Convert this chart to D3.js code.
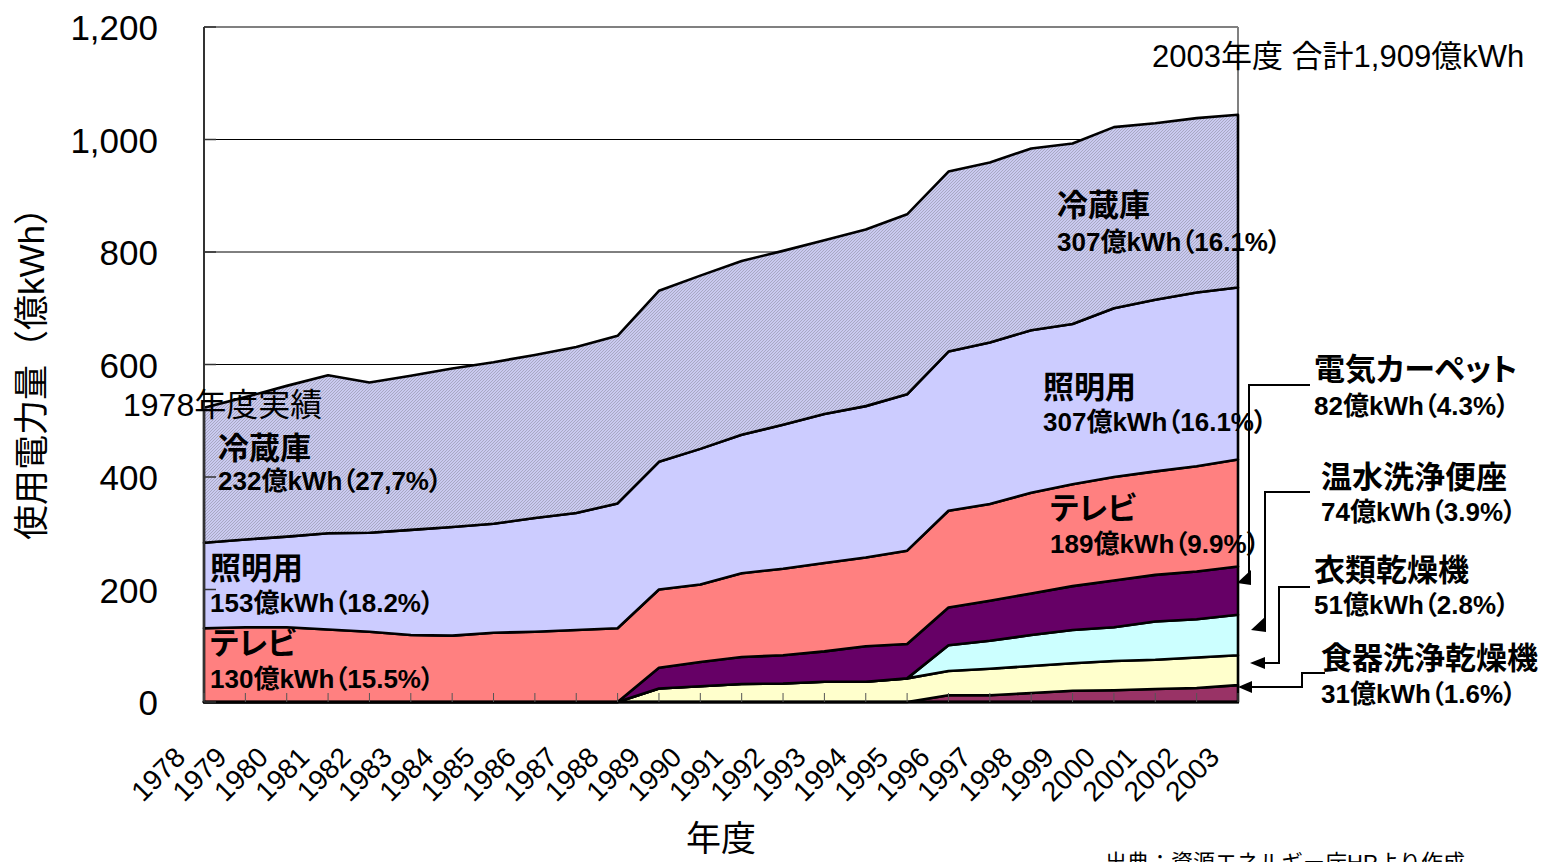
<!DOCTYPE html>
<html><head><meta charset="utf-8">
<script src="https://cdn.jsdelivr.net/npm/d3@7/dist/d3.min.js"></script>
<style>
html,body{margin:0;padding:0;background:#fff;overflow:hidden}
svg{display:block}
text{font-feature-settings:"palt"}
text.nopalt{font-feature-settings:normal}
</style></head><body>
<svg id="c" width="1548" height="862"></svg>
<script>
// ---- data (億kWh) ----
const years = [1978,1979,1980,1981,1982,1983,1984,1985,1986,1987,1988,1989,1990,1991,1992,1993,1994,1995,1996,1997,1998,1999,2000,2001,2002,2003];
const dishDryer = [0,0,0,0,0,0,0,0,0,0,0,0,0,0,0,0,0,0,12,12,16,20,21,23,25,30];          // 食器洗浄乾燥機
const clothesDryer = [0,0,0,0,0,0,0,0,0,0,0,24,28,32,33,36,36,42,43,47,48,49,52,52,54,53]; // 衣類乾燥機
const toiletSeat = [0,0,0,0,0,0,0,0,0,0,0,0,0,0,0,0,0,0,46,50,55,59,60,68,68,72];         // 温水洗浄便座
const carpet = [0,0,0,0,0,0,0,0,0,0,0,37,43,48,50,54,63,61,67,71,74,78,83,83,85,86];       // 電気カーペット
const tv = [131,133,133,129,125,119,118,123,125,128,131,139,138,149,154,157,158,166,172,172,179,181,184,184,187,190]; // テレビ
const lighting = [152,156,161,171,176,187,193,194,202,208,222,227,241,246,256,265,269,278,283,287,289,285,300,305,309,306]; // 照明用
const fridge = [240,253,268,281,267,274,282,287,290,295,298,304,308,309,309,309,314,320,320,320,323,321,322,314,310,307]; // 冷蔵庫
const yTicks = [0,200,400,600,800,1000,1200];
const seriesKeys = ["食器洗浄乾燥機","衣類乾燥機","温水洗浄便座","電気カーペット","テレビ","照明用","冷蔵庫"];
const seriesValues = [dishDryer, clothesDryer, toiletSeat, carpet, tv, lighting, fridge];
const seriesColors = ["#993366","#FFFFCC","#CCFFFF","#660066","#FF8080","#CCCCFF","url(#hatch)"];

const LAT = '"Liberation Sans", Arial, "Noto Sans CJK JP", sans-serif';
const JP = '"Noto Sans CJK JP", "Liberation Sans", sans-serif';

const svg = d3.select("#c");
const L = 204, R = 1238, T = 27, B = 702;
const x = d3.scaleLinear().domain([1978, 2003]).range([L, R]);
const y = d3.scaleLinear().domain([0, 1200]).range([B, T]);

// fine hatch pattern for 冷蔵庫
const defs = svg.append("defs");
const pat = defs.append("pattern").attr("id","hatch").attr("patternUnits","userSpaceOnUse").attr("width",3).attr("height",3);
pat.append("rect").attr("width",3).attr("height",3).attr("fill","#CACAF0");
pat.append("path").attr("d","M0,3 L3,0 M-1,1 L1,-1 M2,4 L4,2").attr("stroke","#A0A0B8").attr("stroke-width",0.8);

// gridlines
svg.append("g").selectAll("line").data(yTicks.filter(v => v > 0 && v < 1200)).join("line")
  .attr("x1", L).attr("x2", R).attr("y1", d => y(d)).attr("y2", d => y(d))
  .attr("stroke", "#000").attr("stroke-width", 1);
// frame top / right
svg.append("line").attr("x1", L).attr("x2", R).attr("y1", y(1200)).attr("y2", y(1200)).attr("stroke", "#808080").attr("stroke-width", 2);
svg.append("line").attr("x1", R).attr("x2", R).attr("y1", y(1200)).attr("y2", B).attr("stroke", "#808080").attr("stroke-width", 2);

// stacked areas
const rows = years.map((yr, i) => {
  const o = { year: yr };
  seriesKeys.forEach((k, j) => o[k] = seriesValues[j][i]);
  return o;
});
const stacked = d3.stack().keys(seriesKeys)(rows);
const area = d3.area().x(d => x(d.data.year)).y0(d => y(d[0])).y1(d => y(d[1]));
svg.append("g").selectAll("path").data(stacked).join("path")
  .attr("d", area)
  .attr("fill", (d, i) => seriesColors[i])
  .attr("stroke", "#000").attr("stroke-width", 2.6).attr("stroke-linejoin", "round");

// axes lines
svg.append("line").attr("x1", L).attr("x2", L).attr("y1", T).attr("y2", B).attr("stroke", "#333").attr("stroke-width", 2);
svg.append("line").attr("x1", L - 1).attr("x2", R + 1).attr("y1", B).attr("y2", B).attr("stroke", "#000").attr("stroke-width", 3);

// inner ticks
svg.append("g").selectAll("line").data(years).join("line")
  .attr("x1", d => x(d)).attr("x2", d => x(d)).attr("y1", B).attr("y2", B - 9)
  .attr("stroke", "#555").attr("stroke-width", 1);
svg.append("g").selectAll("line").data(yTicks).join("line")
  .attr("x1", L).attr("x2", L + 12).attr("y1", d => y(d)).attr("y2", d => y(d))
  .attr("stroke", "#333").attr("stroke-width", 1.5);

// y axis labels
const yAxis = d3.axisLeft(y).tickValues(yTicks).tickFormat(d3.format(",")).tickSize(0).tickPadding(0);
const ya = svg.append("g").attr("transform", `translate(${158},0)`).call(yAxis);
ya.select(".domain").remove();
ya.selectAll("text").attr("font-family", LAT).attr("font-size", 35).attr("fill", "#000").attr("dy", "0.36em");

// x axis labels (rotated)
svg.append("g").selectAll("text").data(years).join("text")
  .attr("transform", d => `translate(${x(d) - 17},${759}) rotate(-45)`)
  .attr("text-anchor", "end").attr("font-family", LAT).attr("font-size", 28).attr("fill", "#000")
  .text(d => d);

// axis titles
svg.append("text").attr("class", "nopalt").attr("transform", "translate(31,365) rotate(-90)").attr("text-anchor", "middle")
  .attr("dominant-baseline", "central").attr("font-family", LAT).attr("font-size", 35).text("使用電力量（億kWh）");
svg.append("text").attr("x", 721).attr("y", 851).attr("text-anchor", "middle")
  .attr("font-family", JP).attr("font-size", 35).text("年度");

// notes
svg.append("text").attr("x", 1152).attr("y", 67).attr("font-family", LAT).attr("font-size", 31).text("2003年度 合計1,909億kWh");
svg.append("text").attr("x", 123).attr("y", 416).attr("font-family", LAT).attr("font-size", 32).text("1978年度実績");
svg.append("text").attr("class", "nopalt").attr("x", 1105).attr("y", 870).attr("font-family", LAT).attr("font-size", 22).text("出典：資源エネルギー庁HPより作成");

// series labels
const labels = [
  { t: "冷蔵庫", v: "232億kWh（27,7%）", x: 218, y1: 459, y2: 490 },
  { t: "照明用", v: "153億kWh（18.2%）", x: 210, y1: 579, y2: 612 },
  { t: "テレビ", v: "130億kWh（15.5%）", x: 210, y1: 654, y2: 688 },
  { t: "冷蔵庫", v: "307億kWh（16.1%）", x: 1057, y1: 216, y2: 251 },
  { t: "照明用", v: "307億kWh（16.1%）", x: 1043, y1: 398, y2: 431 },
  { t: "テレビ", v: "189億kWh（9.9%）", x: 1050, y1: 519, y2: 553 },
  { t: "電気カーペット", v: "82億kWh（4.3%）", x: 1314, y1: 380, y2: 415 },
  { t: "温水洗浄便座", v: "74億kWh（3.9%）", x: 1321, y1: 488, y2: 521 },
  { t: "衣類乾燥機", v: "51億kWh（2.8%）", x: 1314, y1: 581, y2: 614 },
  { t: "食器洗浄乾燥機", v: "31億kWh（1.6%）", x: 1321, y1: 669, y2: 703 }
];
const lg = svg.append("g");
labels.forEach(d => {
  lg.append("text").attr("x", d.x).attr("y", d.y1).attr("font-family", JP).attr("font-weight", "bold").attr("font-size", 31).text(d.t);
  lg.append("text").attr("x", d.x).attr("y", d.y2).attr("font-family", LAT).attr("font-weight", "bold").attr("font-size", 26).text(d.v);
});

// callout arrows
const arrows = [
  { p: [[1310,385],[1249,385],[1249,576]], h: [[1251,570],[1251,585],[1237,583]] },
  { p: [[1310,492],[1265,492],[1265,620]], h: [[1266,616],[1266,632],[1251,630]] },
  { p: [[1310,587],[1279,587],[1279,663],[1262,663]], h: [[1265,657],[1265,669],[1250,663]] },
  { p: [[1325,673],[1302,673],[1302,687],[1250,687]], h: [[1252,681],[1252,693],[1238,687]] }
];
const ag = svg.append("g");
arrows.forEach(a => {
  ag.append("path").attr("d", d3.line()(a.p)).attr("fill", "none").attr("stroke", "#000").attr("stroke-width", 2);
  ag.append("path").attr("d", d3.line()(a.h) + "Z").attr("fill", "#000");
});
</script>
</body></html>
